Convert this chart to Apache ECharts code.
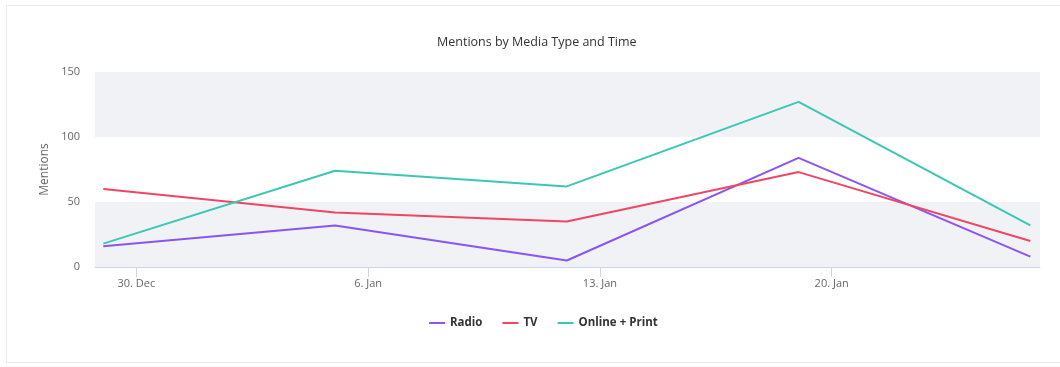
<!DOCTYPE html>
<html>
<head>
<meta charset="utf-8">
<script src="https://cdn.jsdelivr.net/npm/echarts@6/dist/echarts.min.js"></script>
<style>
    html, body { margin: 0; padding: 0; background: #fff; }
    #card {
        position: absolute; left: 6px; top: 5px; width: 1060px; height: 358px;
        border: 1px solid #ececec; box-sizing: border-box;
    }
    #chart { position: absolute; left: 0; top: 0; width: 1060px; height: 367px; }
</style>
</head>
<body>
<div id="card"></div>
<div id="chart"></div>
<script>
// weekly data points
var dates = ['2019-12-29', '2020-01-05', '2020-01-12', '2020-01-19', '2020-01-26'];
var radio = [16, 32, 5, 84, 8];
var tv = [60, 42, 35, 73, 20];
var onlinePrint = [18, 74, 62, 127, 32];

var tickDates = ['2019-12-30', '2020-01-06', '2020-01-13', '2020-01-20'];
var months = ['Jan', 'Feb', 'Mar', 'Apr', 'May', 'Jun', 'Jul', 'Aug', 'Sep', 'Oct', 'Nov', 'Dec'];

function toTime(s) {
    var p = s.split('-');
    return Date.UTC(+p[0], +p[1] - 1, +p[2]);
}

function pairs(values) {
    var out = [];
    for (var i = 0; i < dates.length; i++) {
        out.push([toTime(dates[i]), values[i]]);
    }
    return out;
}

var HOUR = 3600 * 1000;
var tickValues = tickDates.map(toTime);

var chart = echarts.init(document.getElementById('chart'));

var option = {
    textStyle: { fontFamily: 'Open Sans' },
    color: ['#8a55f0', '#ef4664', '#3cc7b2'],
    title: {
        text: 'Mentions by Media Type and Time',
        left: 432,
        top: 31,
        textStyle: { fontSize: 12.5, fontWeight: 'normal', color: '#333', fontFamily: 'Open Sans' }
    },
    legend: {
        top: 312,
        left: 424,
        icon: 'rect',
        itemWidth: 16,
        itemHeight: 2,
        itemGap: 20,
        textStyle: { fontSize: 11.5, fontWeight: 'bold', color: '#333', fontFamily: 'Open Sans' }
    },
    grid: {
        left: 95,
        right: 20,
        top: 72,
        bottom: 100
    },
    xAxis: {
        // plain value axis holding timestamps, labels formatted as dates
        type: 'value',
        min: toTime(dates[0]) - 6 * HOUR,
        max: toTime(dates[dates.length - 1]) + 7 * HOUR,
        axisLine: { lineStyle: { color: '#ccd6eb' } },
        axisTick: {
            show: true,
            length: 10,
            customValues: tickValues,
            lineStyle: { color: '#ccd6eb' }
        },
        axisLabel: {
            customValues: tickValues,
            color: '#666',
            fontSize: 11,
            margin: 11,
            formatter: function(val) {
                var d = new Date(val);
                return d.getUTCDate() + '. ' + months[d.getUTCMonth()];
            }
        },
        splitLine: { show: false }
    },
    yAxis: {
        type: 'value',
        min: 0,
        max: 150,
        interval: 50,
        name: 'Mentions',
        nameLocation: 'middle',
        nameGap: 37,
        nameTextStyle: { color: '#666', fontSize: 12 },
        axisLine: { show: false },
        axisTick: { show: false },
        axisLabel: { color: '#666', fontSize: 11, margin: 15 },
        splitLine: { show: false },
        splitArea: {
            show: true,
            areaStyle: { color: ['#f0f2f6', '#ffffff'] }
        }
    },
    series: [
        {
            name: 'Radio',
            type: 'line',
            showSymbol: false,
            lineStyle: { width: 2 },
            data: pairs(radio)
        },
        {
            name: 'TV',
            type: 'line',
            showSymbol: false,
            lineStyle: { width: 2 },
            data: pairs(tv)
        },
        {
            name: 'Online + Print',
            type: 'line',
            showSymbol: false,
            lineStyle: { width: 2 },
            data: pairs(onlinePrint)
        }
    ]
};

chart.setOption(option);
</script>
</body>
</html>
